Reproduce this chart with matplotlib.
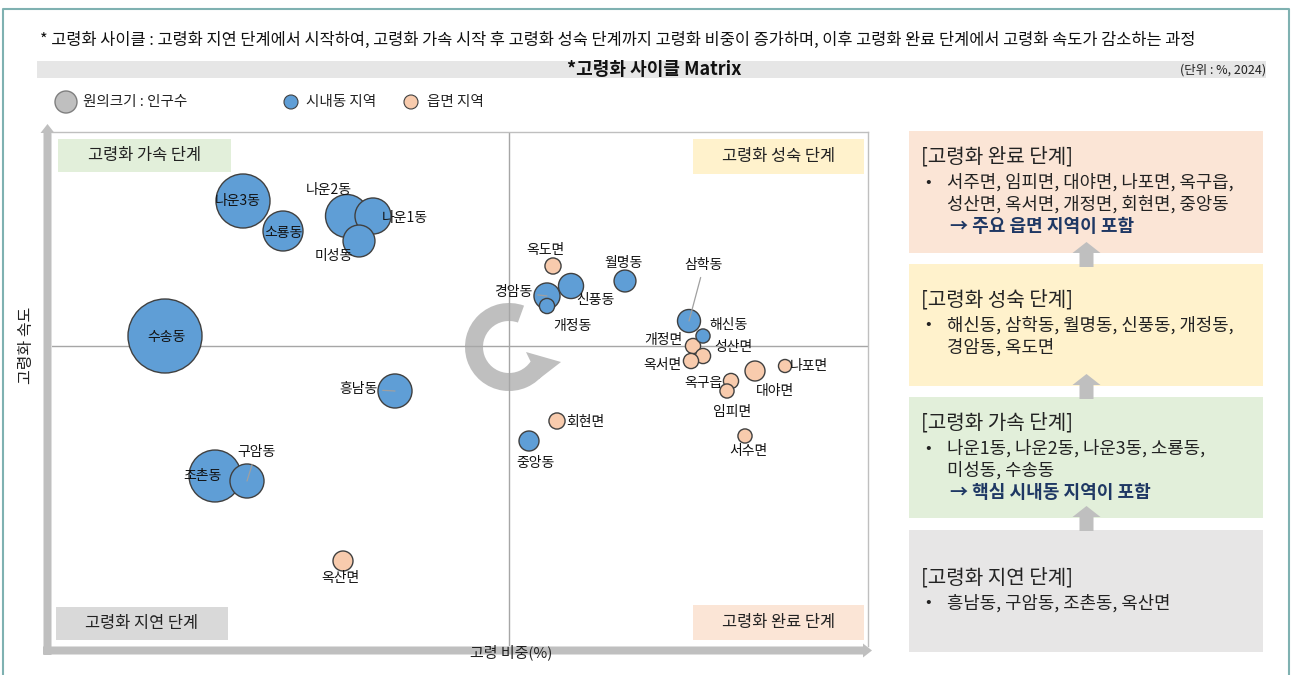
import matplotlib
matplotlib.use('Agg')
import matplotlib.pyplot as plt
from matplotlib import patches

plt.rcParams['font.family'] = ['Noto Sans CJK KR', 'DejaVu Sans']

W, H = 1291, 675

# 읍면동별 고령 비중(%), 고령화 속도, 인구수(명) - 그림에서 읽은 추정치
names = ['나운3동', '소룡동', '나운2동', '나운1동', '미성동', '수송동', '흥남동',
         '조촌동', '구암동', '옥산면', '옥도면', '신풍동', '월명동', '경암동',
         '개정동', '삼학동', '해신동', '개정면', '성산면', '옥서면', '대야면',
         '나포면', '옥구읍', '임피면', '회현면', '중앙동', '서수면']
aged_share = [11.7, 13.7, 16.9, 18.2, 17.5, 7.8, 19.3,
              10.3, 11.9, 16.7, 27.2, 28.1, 30.8, 26.9,
              26.9, 34.0, 34.7, 34.2, 34.7, 34.1, 37.3,
              38.8, 36.1, 35.9, 27.4, 26.0, 36.8]
aging_speed = [6.9, 6.3, 6.6, 6.6, 6.1, 4.2, 3.1,
               1.4, 1.3, -0.3, 5.6, 5.2, 5.3, 5.0,
               4.8, 4.5, 4.2, 4.0, 3.8, 3.7, 3.5,
               3.6, 3.3, 3.1, 2.5, 2.1, 2.2]
population = [29200, 16000, 18500, 13000, 10200, 54800, 11600,
              27000, 11600, 4000, 2600, 6300, 4800, 6800,
              2300, 5300, 2000, 2300, 2300, 2300, 4000,
              1700, 2300, 2000, 2600, 4000, 2000]

share_cut = 25.0
speed_cut = 4.0

stage_done = ['서주면, 임피면, 대야면, 나포면, 옥구읍,',
              '성산면, 옥서면, 개정면, 회현면, 중앙동']
stage_mature = ['해신동, 삼학동, 월명동, 신풍동, 개정동,', '경암동, 옥도면']
stage_accel = ['나운1동, 나운2동, 나운3동, 소룡동,', '미성동, 수송동']
stage_delay = ['흥남동, 구암동, 조촌동, 옥산면']

# label offsets in pixels (x right, y up) and which labels get a leader line
label_off = {
    '나운3동': (-5, 0), '소룡동': (0, -2), '나운2동': (-18, 26), '나운1동': (32, -2),
    '미성동': (-25, -15), '수송동': (1, -1), '흥남동': (-37, 2), '조촌동': (-13, 0),
    '구암동': (9, 29), '옥산면': (-3, -17), '옥도면': (-8, 16), '신풍동': (24, -14),
    '월명동': (-2, 18), '경암동': (-34, 4), '개정동': (25, -20), '삼학동': (15, 56),
    '해신동': (25, 11), '개정면': (-30, 6), '성산면': (30, 9), '옥서면': (-29, -4),
    '대야면': (20, -20), '나포면': (24, 0), '옥구읍': (-28, -2), '임피면': (5, -21),
    '회현면': (28, -1), '중앙동': (6, -22), '서수면': (3, -15),
}
leaders = ['삼학동', '구암동', '흥남동', '경암동']

BLUE = '#5F9ED6'
PEACH = '#F8CBAD'
EDGE = '#404040'
GRAY = '#BFBFBF'

fig = plt.figure(figsize=(W / 100, H / 100), dpi=100)

# background layer in image pixel coordinates
bg = fig.add_axes([0, 0, 1, 1], zorder=0)
bg.set_xlim(0, W)
bg.set_ylim(H, 0)
bg.axis('off')

# scatter axes over the matrix frame
x0, y0, x1, y1 = 52, 132, 868, 646
ax = fig.add_axes([x0 / W, 1 - y1 / H, (x1 - x0) / W, (y1 - y0) / H], zorder=1)
ax.set_facecolor('none')
ax.set_xlim(share_cut - (509 - x0) / 20, share_cut + (x1 - 509) / 20)
ax.set_ylim(speed_cut - (y1 - 346) / 50, speed_cut + (346 - y0) / 50)
ax.set_xticks([])
ax.set_yticks([])
for side in ['left', 'bottom']:
    ax.spines[side].set_visible(False)
for side in ['top', 'right']:
    ax.spines[side].set_color(GRAY)
    ax.spines[side].set_linewidth(1)
ax.axvline(share_cut, color='#A6A6A6', lw=1, zorder=1)
ax.axhline(speed_cut, color='#A6A6A6', lw=1, zorder=1)

order = sorted(range(len(names)), key=lambda i: -population[i])
ax.scatter([aged_share[i] for i in order], [aging_speed[i] for i in order],
           s=[population[i] * 0.0518 for i in order],
           c=[BLUE if names[i].endswith('동') else PEACH for i in order],
           edgecolors=EDGE, linewidths=1, zorder=3)

for n, x, y in zip(names, aged_share, aging_speed):
    dx, dy = label_off[n]
    props = None
    if n in leaders:
        props = dict(arrowstyle='-', color='#A0A0A0', lw=0.9, shrinkA=2, shrinkB=0)
    ax.annotate(n, (x, y), xytext=(dx, dy), textcoords='offset pixels',
                ha='center', va='center', fontsize=10, color='#111111',
                arrowprops=props, zorder=5)

# quadrant labels
quads = [('고령화 가속 단계', 58, 139, 231, 172, '#E2EFDA'),
         ('고령화 성숙 단계', 693, 139, 864, 174, '#FFF2CC'),
         ('고령화 지연 단계', 56, 607, 228, 640, '#D9D9D9'),
         ('고령화 완료 단계', 693, 605, 864, 640, '#FBE5D6')]
for txt, qa, qb, qc, qd, col in quads:
    bg.add_patch(patches.Rectangle((qa, qb), qc - qa, qd - qb, fc=col, ec='none'))
    bg.text((qa + qc) / 2, (qb + qd) / 2, txt, ha='center', va='center',
            fontsize=11.8, color='#222222')

# cycle arrow
bg.add_patch(patches.Wedge((509, 347), 44, 34, 290, width=18, fc=GRAY, ec='none'))
bg.add_patch(patches.Polygon([(526, 352), (561, 362), (539, 379)], fc=GRAY, ec='none'))

# axis arrows
bg.add_patch(patches.FancyArrow(47.5, 655, 0, -531, width=8, head_width=14,
                                head_length=9, length_includes_head=True,
                                fc=GRAY, ec='none'))
bg.add_patch(patches.FancyArrow(43, 650.5, 829, 0, width=8, head_width=14,
                                head_length=9, length_includes_head=True,
                                fc=GRAY, ec='none'))
bg.text(26, 345, '고령화 속도', rotation=90, ha='center', va='center',
        fontsize=11.5, color='#222222')
bg.text(511, 652, '고령 비중(%)', ha='center', va='center', fontsize=10.8,
        color='#222222', zorder=3)

# header
bg.text(40, 40, '* 고령화 사이클 : 고령화 지연 단계에서 시작하여, 고령화 가속 시작 후 고령화 성숙 '
        '단계까지 고령화 비중이 증가하며, 이후 고령화 완료 단계에서 고령화 속도가 감소하는 과정',
        ha='left', va='center', fontsize=11.8, color='#111111')
bg.add_patch(patches.Rectangle((37, 61), 1229, 17, fc='#E6E6E6', ec='none'))
bg.text(654, 69.5, '*고령화 사이클 Matrix', ha='center', va='center',
        fontsize=13, fontweight='bold', color='#111111')
bg.text(1266, 70, '(단위 : %, 2024)', ha='right', va='center', fontsize=9,
        color='#222222')

# legend
bg.add_patch(patches.Circle((66, 102), 11, fc=GRAY, ec='#7F7F7F', lw=1))
bg.text(83, 102, '원의크기 : 인구수', ha='left', va='center', fontsize=10.5, color='#222222')
bg.add_patch(patches.Circle((291, 102), 7, fc=BLUE, ec=EDGE, lw=0.8))
bg.text(306, 102, '시내동 지역', ha='left', va='center', fontsize=10.5, color='#222222')
bg.add_patch(patches.Circle((411, 102), 7, fc=PEACH, ec=EDGE, lw=0.8))
bg.text(427, 102, '읍면 지역', ha='left', va='center', fontsize=10.5, color='#222222')

# right-hand stage panel
panels = [('[고령화 완료 단계]', stage_done, '→ 주요 읍면 지역이 포함', 131, 253, '#FBE5D6'),
          ('[고령화 성숙 단계]', stage_mature, None, 264, 386, '#FFF2CC'),
          ('[고령화 가속 단계]', stage_accel, '→ 핵심 시내동 지역이 포함', 397, 518, '#E2EFDA'),
          ('[고령화 지연 단계]', stage_delay, None, 530, 652, '#E7E6E6')]
title_y = [157, 300, 423, 578]
for (title, items, note, top, bot, col), ty in zip(panels, title_y):
    bg.add_patch(patches.Rectangle((909, top), 354, bot - top, fc=col, ec='none'))
    bg.text(921, ty, title, ha='left', va='center', fontsize=14.5, color='#222222')
    ly = ty + 25
    bg.text(925, ly, '•', ha='left', va='center', fontsize=12, color='#222222')
    for line in items:
        bg.text(947, ly, line, ha='left', va='center', fontsize=12.8, color='#222222')
        ly += 22
    if note:
        bg.text(950, ly, note, ha='left', va='center', fontsize=13,
                fontweight='bold', color='#1F3864')

for tip in [242, 374, 506]:
    bg.add_patch(patches.FancyArrow(1086.5, tip + 25, 0, -25, width=14, head_width=28,
                                    head_length=11, length_includes_head=True,
                                    fc=GRAY, ec='none', zorder=3))

# outer frame
bg.plot([3, 3, 1289, 1289], [H + 5, 9, 9, H + 5], color='#7FB1B1', lw=1.5)

fig.savefig('out.png', dpi=100, facecolor='white')
